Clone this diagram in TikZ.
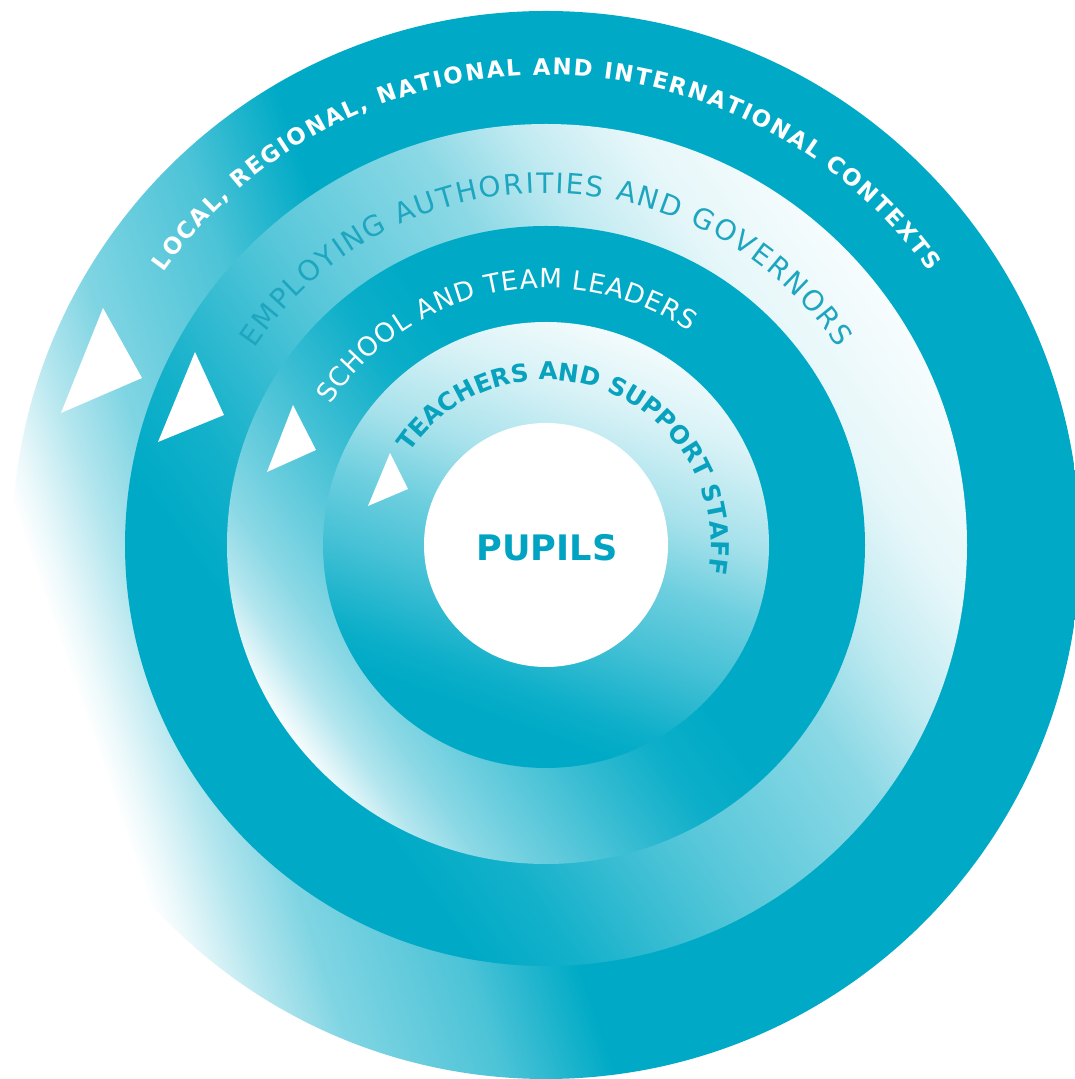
\documentclass[tikz,border=0pt]{standalone}
\usepackage{fontspec}
\setmainfont{DejaVu Sans}
\usetikzlibrary{decorations.text}
\definecolor{tl}{RGB}{0,170,198}
\definecolor{txtA}{RGB}{30,166,192}
\definecolor{txtB}{RGB}{8,162,190}
\definecolor{pupc}{RGB}{0,164,194}
\colorlet{tlA}{tl!3!white}\colorlet{tlB}{tl!5!white}\colorlet{tlC}{tl!8!white}\colorlet{tlD}{tl!10!white}
\colorlet{tlE}{tl!15!white}\colorlet{tlF}{tl!25!white}\colorlet{tlG}{tl!30!white}\colorlet{tlH}{tl!35!white}
\colorlet{tlI}{tl!45!white}\colorlet{tlJ}{tl!50!white}\colorlet{tlK}{tl!57!white}\colorlet{tlL}{tl!65!white}
\colorlet{tlM}{tl!70!white}\colorlet{tlN}{tl!73!white}\colorlet{tlO}{tl!78!white}\colorlet{tlP}{tl!80!white}
\colorlet{tlQ}{tl!92!white}\colorlet{tlR}{tl!95!white}
\pgfdeclarehorizontalshading{shadeA}{100bp}{color(0bp)=(white); color(27bp)=(white); color(28.2bp)=(tlC); color(30.8bp)=(tlG); color(33.7bp)=(tlJ); color(40bp)=(tlM); color(45bp)=(tl); color(100bp)=(tl)}
\pgfdeclarehorizontalshading{shadeB}{100bp}{color(0bp)=(white); color(25bp)=(tlA); color(32bp)=(tlD); color(37.5bp)=(tlF); color(42.5bp)=(tlI); color(52.5bp)=(tlL); color(57.5bp)=(tlO); color(62.5bp)=(tlQ); color(67.5bp)=(tl); color(100bp)=(tl)}
\pgfdeclarehorizontalshading{shadeC}{100bp}{color(0bp)=(white); color(25bp)=(tlA); color(28.5bp)=(tlG); color(31.5bp)=(tlI); color(35bp)=(tlK); color(42.5bp)=(tlP); color(48bp)=(tlR); color(53bp)=(tl); color(100bp)=(tl)}
\pgfdeclarehorizontalshading{shadeD}{100bp}{color(0bp)=(white); color(25bp)=(tlB); color(32.5bp)=(tlE); color(42.5bp)=(tlH); color(50bp)=(tlK); color(57.5bp)=(tlN); color(66.25bp)=(tlR); color(70bp)=(tl); color(100bp)=(tl)}
\tikzset{
  arrowtri/.style={fill=white},
  ringtext/.style={decorate, decoration={text along path, text align={fit to path}, text={#1}}}
}
\begin{document}
\begin{tikzpicture}[x=0.02cm,y=0.02cm]
\useasboundingbox (0,0) rectangle (1075,1079);
\clip (0,0) rectangle (1075,1079);
\fill[white] (0,0) rectangle (1075,1079);
\coordinate (O) at (546,534);
% discs
\shade[shading=shadeA, shading angle=19] (O) circle[radius=534];
\shade[shading=shadeB, shading angle=215] (O) circle[radius=421];
\shade[shading=shadeC, shading angle=35] (O) circle[radius=319];
\shade[shading=shadeD, shading angle=250] (O) circle[radius=223];
\fill[white] (O) circle[radius=122];
% triangles
\fill[arrowtri] (103,771) -- (142,701) -- (61,666) -- cycle;
\fill[arrowtri] (195,727) -- (224,664) -- (158,637) -- cycle;
\fill[arrowtri] (293,674) -- (316,629) -- (267,607) -- cycle;
\fill[arrowtri] (390,626) -- (408,590) -- (368,573) -- cycle;
% ring texts
\path[ringtext={|\fontsize{13}{15}\selectfont\bfseries\color{white}|LOCAL, REGIONAL, NATIONAL AND INTERNATIONAL CONTEXTS}]
  ([shift={(144.5:470)}]O) arc[start angle=144.5, end angle=35.5, radius=470];
\path[ringtext={|\fontsize{16}{18}\selectfont\color{txtA}|EMPLOYING AUTHORITIES AND GOVERNORS}]
  ([shift={(146:352)}]O) arc[start angle=146, end angle=34, radius=352];
\path[ringtext={|\fontsize{15}{17}\selectfont\color{white}|SCHOOL AND TEAM LEADERS}]
  ([shift={(147:257)}]O) arc[start angle=147, end angle=56, radius=257];
\path[ringtext={|\fontsize{14}{16}\selectfont\bfseries\color{txtB}|TEACHERS AND SUPPORT STAFF}]
  ([shift={(146:165)}]O) arc[start angle=146, end angle=-10, radius=165];
\node[font=\fontsize{20}{24}\selectfont\bfseries, text=pupc] (pupils) at (547,531) {PUPILS};
\end{tikzpicture}
\end{document}
